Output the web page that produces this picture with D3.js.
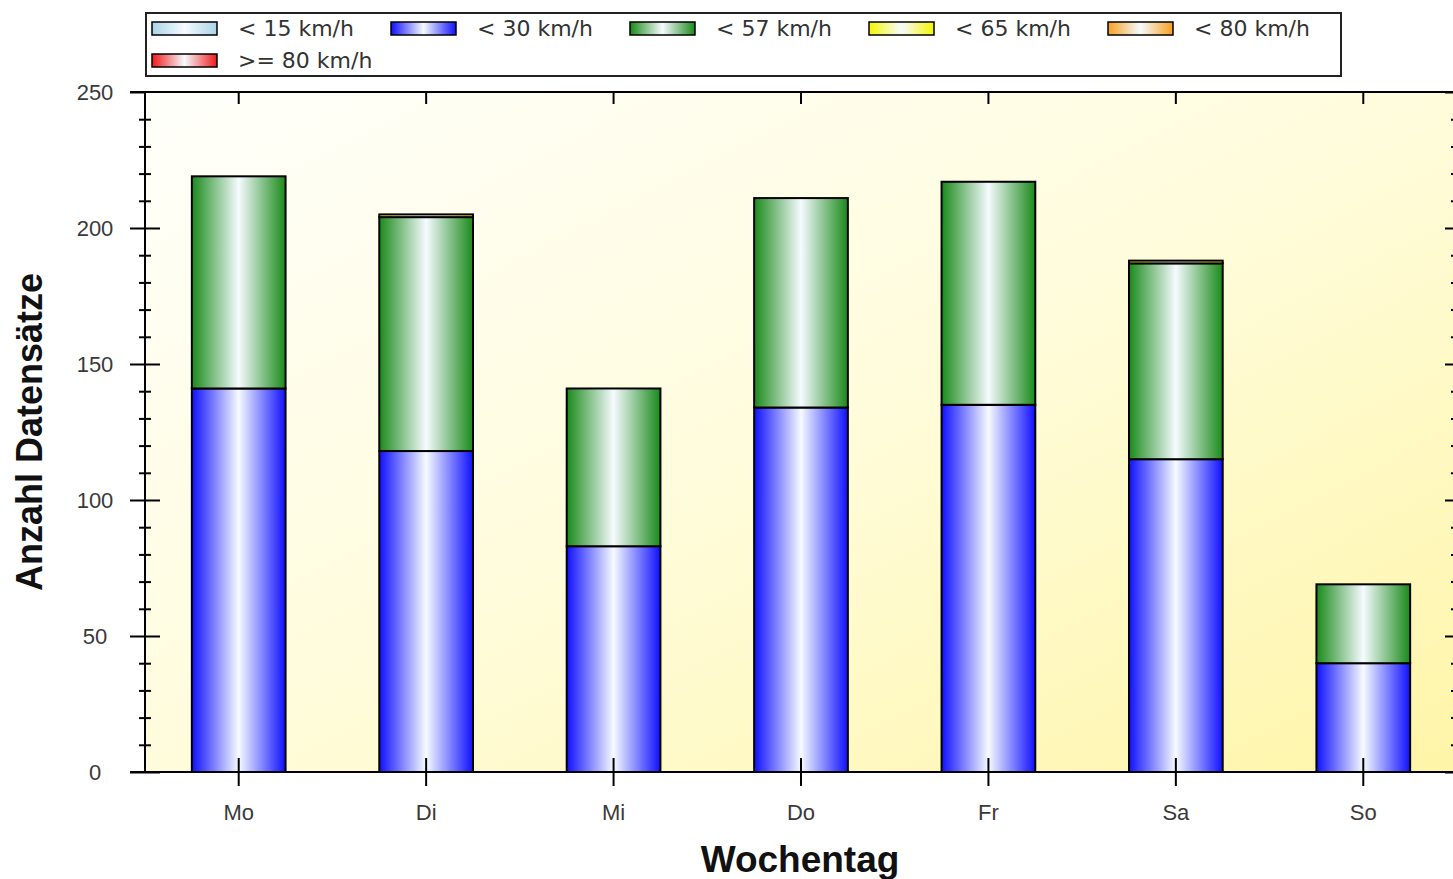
<!DOCTYPE html>
<html>
<head>
<meta charset="utf-8">
<script src="https://cdn.jsdelivr.net/npm/d3@7"></script>
<style>
  body { margin: 0; background: #fff; }
  svg { display: block; font-family: "DejaVu Sans", Verdana, sans-serif; }
</style>
</head>
<body>
<svg id="chart" width="1453" height="879"></svg>
<script>
// categories and series (counts per weekday and speed class)
var days = ["Mo", "Di", "Mi", "Do", "Fr", "Sa", "So"];
var seriesNames = ["< 15 km/h", "< 30 km/h", "< 57 km/h", "< 65 km/h", "< 80 km/h", ">= 80 km/h"];
var below15 = [0, 0, 0, 0, 0, 0, 0];
var below30 = [141, 118, 83, 134, 135, 115, 40];
var below57 = [78, 86, 58, 77, 82, 72, 29];
var below65 = [0, 1, 0, 0, 0, 1, 0];
var below80 = [0, 0, 0, 0, 0, 0, 0];
var above80 = [0, 0, 0, 0, 0, 0, 0];
var yTicks = [0, 50, 100, 150, 200, 250];

var colors = ["#a8d4e6", "#1010ff", "#1a8a1a", "#f5f500", "#f7a020", "#f01818"];

var svg = d3.select("#chart");
var margin = {left: 145, right: 1457, top: 92, bottom: 772};

var rows = days.map(function(d, i){
	return {day: d, s0: below15[i], s1: below30[i], s2: below57[i], s3: below65[i], s4: below80[i], s5: above80[i]};
});
var keys = ["s0", "s1", "s2", "s3", "s4", "s5"];
var stacked = d3.stack().keys(keys)(rows);

var x = d3.scaleBand().domain(days).range([margin.left, margin.right]).paddingInner(0.5).paddingOuter(0.25);
var y = d3.scaleLinear().domain([0, 250]).range([margin.bottom, margin.top]);

var defs = svg.append("defs");

// plot background
var bg = defs.append("linearGradient").attr("id", "bg")
	.attr("x1", "0%").attr("y1", "0%").attr("x2", "100%").attr("y2", "100%");
bg.append("stop").attr("offset", "0%").attr("stop-color", "#fffffb");
bg.append("stop").attr("offset", "50%").attr("stop-color", "#fffcdc");
bg.append("stop").attr("offset", "100%").attr("stop-color", "#fff5a8");

// bar gradients: dark at the edges, white in the middle
colors.forEach(function(c, i){
	var g = defs.append("linearGradient").attr("id", "grad" + i)
		.attr("x1", "0%").attr("y1", "0%").attr("x2", "100%").attr("y2", "0%");
	g.append("stop").attr("offset", "0%").attr("stop-color", c);
	g.append("stop").attr("offset", "50%").attr("stop-color", "#f6fbff");
	g.append("stop").attr("offset", "100%").attr("stop-color", c);
});

svg.append("rect")
	.attr("x", margin.left).attr("y", margin.top)
	.attr("width", margin.right - margin.left).attr("height", margin.bottom - margin.top)
	.attr("fill", "url(#bg)");

// bars
var layers = svg.selectAll(".layer")
	.data(stacked)
	.enter().append("g")
	.attr("class", "layer")
	.attr("fill", function(d, i){ return "url(#grad" + i + ")"; });

layers.selectAll("rect")
	.data(function(d){ return d.filter(function(p){ return p[1] > p[0]; }); })
	.enter().append("rect")
	.attr("x", function(d){ return x(d.data.day); })
	.attr("width", x.bandwidth())
	.attr("y", function(d){ return y(d[1]); })
	.attr("height", function(d){ return y(d[0]) - y(d[1]); })
	.attr("stroke", "#000")
	.attr("stroke-width", 2);

// axes
function styleAxis(g){
	g.select(".domain").remove();
	g.selectAll(".tick line").attr("stroke", "#000").attr("stroke-width", 2);
	g.selectAll(".tick text").attr("fill", "#3a3a3a").style("font-size", "22px");
}

var minor = d3.range(0, 251, 10).filter(function(v){ return v % 50 != 0; });

// left labels are centred on a column, not right aligned
svg.append("g").attr("transform", "translate(" + margin.left + ",0)")
	.call(d3.axisLeft(y).tickValues(yTicks).tickSize(15).tickPadding(0))
	.call(styleAxis)
	.call(function(g){
		g.selectAll(".tick text").attr("text-anchor", "middle").attr("x", 95 - margin.left);
	});
svg.append("g").attr("transform", "translate(" + margin.left + ",0)")
	.call(d3.axisRight(y).tickValues(yTicks.slice(0, -1)).tickSize(15).tickFormat(""))
	.call(styleAxis);
svg.append("g").attr("transform", "translate(" + margin.left + ",0)")
	.call(d3.axisLeft(y).tickValues(minor).tickSize(6).tickFormat(""))
	.call(styleAxis);
svg.append("g").attr("transform", "translate(" + margin.left + ",0)")
	.call(d3.axisRight(y).tickValues(minor).tickSize(6).tickFormat(""))
	.call(styleAxis);

// right axis, ticks pointing inwards
svg.append("g").attr("transform", "translate(" + margin.right + ",0)")
	.call(d3.axisLeft(y).tickValues(yTicks).tickSize(12).tickFormat(""))
	.call(styleAxis);
svg.append("g").attr("transform", "translate(" + margin.right + ",0)")
	.call(d3.axisLeft(y).tickValues(minor).tickSize(6).tickFormat(""))
	.call(styleAxis);

svg.append("g").attr("transform", "translate(0," + margin.bottom + ")")
	.call(d3.axisBottom(x).tickSize(14).tickPadding(18))
	.call(styleAxis);
svg.append("g").attr("transform", "translate(0," + margin.bottom + ")")
	.call(d3.axisTop(x).tickSize(14).tickFormat(""))
	.call(styleAxis);
svg.append("g").attr("transform", "translate(0," + margin.top + ")")
	.call(d3.axisBottom(x).tickSize(12).tickFormat(""))
	.call(styleAxis);

// frame lines
var frame = svg.append("g").attr("stroke", "#000").attr("stroke-width", 2);
frame.append("line").attr("x1", margin.left - 15).attr("x2", 1453)
	.attr("y1", margin.top).attr("y2", margin.top);
frame.append("line").attr("x1", margin.left - 15).attr("x2", 1453)
	.attr("y1", margin.bottom).attr("y2", margin.bottom);
frame.append("line").attr("x1", margin.left).attr("x2", margin.left)
	.attr("y1", margin.top).attr("y2", margin.bottom);
frame.append("line").attr("x1", margin.right).attr("x2", margin.right)
	.attr("y1", margin.top).attr("y2", margin.bottom);

// axis titles
svg.append("text")
	.attr("transform", "translate(42," + ((margin.top + margin.bottom) / 2) + ") rotate(-90)")
	.attr("text-anchor", "middle")
	.style("font-family", "'Liberation Sans', Arial, sans-serif")
	.style("font-size", "36px").style("font-weight", "bold").attr("fill", "#111")
	.text("Anzahl Datensätze");
svg.append("text")
	.attr("x", 800).attr("y", 872)
	.attr("text-anchor", "middle")
	.style("font-family", "'Liberation Sans', Arial, sans-serif")
	.style("font-size", "37px").style("font-weight", "bold").attr("fill", "#111")
	.text("Wochentag");

// legend
var legend = svg.append("g");
legend.append("rect")
	.attr("x", 146).attr("y", 13).attr("width", 1195).attr("height", 63)
	.attr("fill", "#fff").attr("stroke", "#222").attr("stroke-width", 2);

var item = legend.selectAll(".item")
	.data(seriesNames)
	.enter().append("g")
	.attr("class", "item")
	.attr("transform", function(d, i){
		return "translate(" + (152 + (i % 5) * 239) + "," + (22 + Math.floor(i / 5) * 32) + ")";
	});
item.append("rect")
	.attr("width", 65).attr("height", 13)
	.attr("fill", function(d, i){ return "url(#grad" + i + ")"; })
	.attr("stroke", "#000").attr("stroke-width", 1.5);
item.append("text")
	.attr("x", 86).attr("y", 14)
	.style("font-size", "22px").attr("fill", "#333")
	.text(function(d){ return d; });
</script>
</body>
</html>
